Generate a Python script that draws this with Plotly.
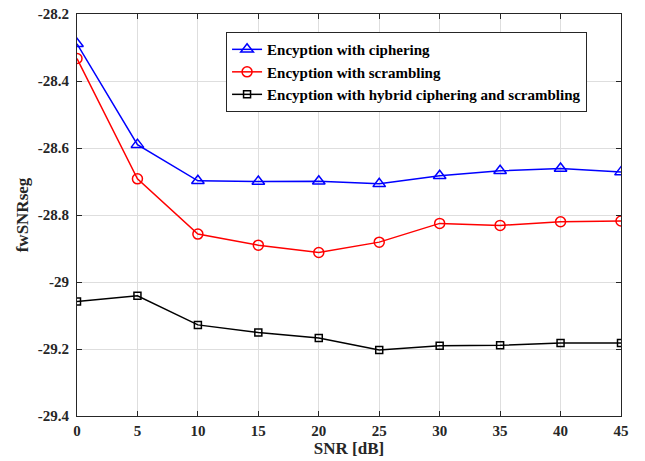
import plotly.graph_objects as go

snr = [0, 5, 10, 15, 20, 25, 30, 35, 40, 45]
ciphering = [-28.289, -28.59, -28.698, -28.70, -28.699, -28.707, -28.683, -28.668, -28.661, -28.672]
scrambling = [-28.333, -28.692, -28.857, -28.89, -28.912, -28.881, -28.825, -28.831, -28.82, -28.818]
hybrid = [-29.058, -29.041, -29.128, -29.151, -29.167, -29.203, -29.190, -29.189, -29.182, -29.182]

ytick_vals = [-28.2, -28.4, -28.6, -28.8, -29.0, -29.2, -29.4]
ytick_text = ["-28.2", "-28.4", "-28.6", "-28.8", "-29", "-29.2", "-29.4"]
xtick_vals = [0, 5, 10, 15, 20, 25, 30, 35, 40, 45]

font_family = "Liberation Serif, Times New Roman, serif"
tick_font = dict(family=font_family, size=15, color="#262626", weight="bold")
title_font = dict(family=font_family, size=17, color="#262626", weight="bold")

fig = go.Figure()
fig.add_trace(go.Scatter(x=snr, y=ciphering, mode="lines+markers", name="Encyption with ciphering",
                         line=dict(color="#0000ff", width=1.5),
                         marker=dict(symbol="triangle-up-open", size=11, color="#0000ff", line=dict(width=1.5))))
fig.add_trace(go.Scatter(x=snr, y=scrambling, mode="lines+markers", name="Encyption with scrambling",
                         line=dict(color="#ff0000", width=1.5),
                         marker=dict(symbol="circle-open", size=10, color="#ff0000", line=dict(width=1.5))))
fig.add_trace(go.Scatter(x=snr, y=hybrid, mode="lines+markers", name="Encyption with hybrid ciphering and scrambling",
                         line=dict(color="#000000", width=1.5),
                         marker=dict(symbol="square-open", size=7, color="#000000", line=dict(width=1.5))))

axis_common = dict(showline=True, linecolor="#262626", linewidth=1, mirror="ticks",
                   ticks="inside", ticklen=5, tickcolor="#262626",
                   showgrid=True, gridcolor="#dedede", gridwidth=1, zeroline=False,
                   automargin=False, tickfont=tick_font)

fig.update_layout(
    width=645, height=461,
    margin=dict(l=77, r=24, t=14, b=45, autoexpand=False),
    paper_bgcolor="white", plot_bgcolor="white",
    font=dict(family=font_family, color="#262626"),
    xaxis=dict(range=[0, 45], tickvals=xtick_vals, ticklabelstandoff=1,
               title=dict(text="SNR [dB]", font=title_font, standoff=0),
               **axis_common),
    yaxis=dict(range=[-29.4, -28.2], tickvals=ytick_vals, ticktext=ytick_text, ticklabelstandoff=4,
               title=dict(text="fwSNRseg", font=title_font, standoff=4),
               **axis_common),
    legend=dict(x=0.274, y=0.955, xanchor="left", yanchor="top",
                bgcolor="white", bordercolor="#262626", borderwidth=1,
                font=dict(family=font_family, size=15, color="#000000", weight="bold"),
                tracegroupgap=0, itemwidth=30),
    showlegend=True,
)

fig.write_html("out.html", config={"displayModeBar": False},
               post_script="document.body.style.margin='0px';document.body.style.overflow='hidden';")
